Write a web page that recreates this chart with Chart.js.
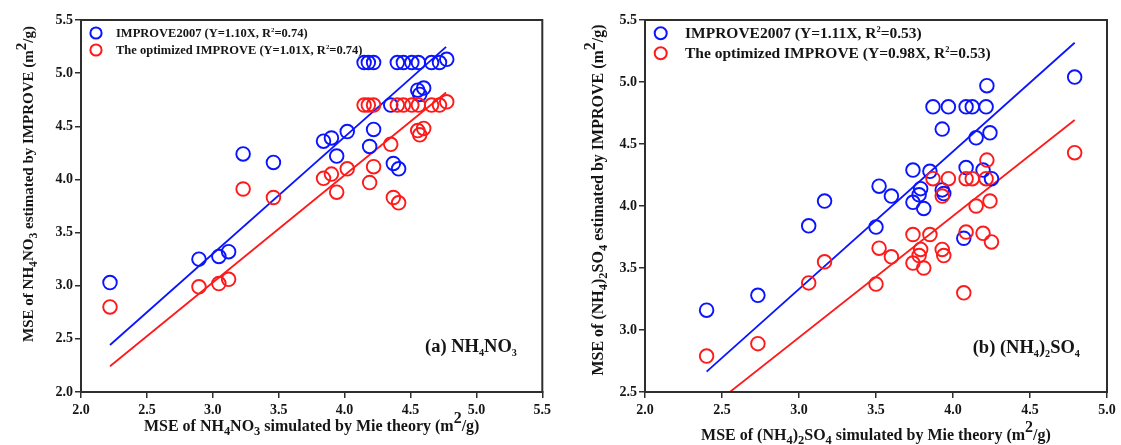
<!DOCTYPE html>
<html>
<head>
<meta charset="utf-8">
<script src="https://cdn.jsdelivr.net/npm/chart.js@4.4.1/dist/chart.umd.min.js"></script>
<style>
  html, body { margin: 0; padding: 0; background: #fff; }
  #wrapA { position: absolute; left: 0; top: 0; width: 560px; height: 445px; }
  #wrapB { position: absolute; left: 560px; top: 0; width: 561px; height: 445px; }
</style>
</head>
<body>
<div id="wrapA"><canvas id="chartA"></canvas></div>
<div id="wrapB"><canvas id="chartB"></canvas></div>
<script>
// ---------- (a) NH4NO3 ----------
const nitrateMie = [2.22, 2.895, 3.046, 3.12, 3.23, 3.46, 3.84, 3.90, 3.94, 4.02, 4.19, 4.22, 4.35, 4.37, 4.41,
  4.555, 4.57, 4.60, 4.148, 4.18, 4.22, 4.40, 4.446, 4.51, 4.56, 4.66, 4.72, 4.775];
const nitrateImprove2007 = [3.03, 3.25, 3.275, 3.32, 4.24, 4.16, 4.36, 4.39, 4.22, 4.45, 4.31, 4.47, 4.70, 4.15, 4.10,
  4.84, 4.80, 4.86, 5.10, 5.10, 5.10, 5.10, 5.10, 5.10, 5.10, 5.10, 5.10, 5.13];
const nitrateOptimized = [2.80, 2.99, 3.02, 3.06, 3.91, 3.83, 4.01, 4.05, 3.88, 4.10, 3.97, 4.12, 4.33, 3.83, 3.78,
  4.46, 4.42, 4.48, 4.70, 4.70, 4.70, 4.70, 4.70, 4.70, 4.70, 4.70, 4.70, 4.73];
const nitrateSlopes = [1.10, 1.01];
const nitrateR2 = ['0.74', '0.74'];
const nitrateFitRange = [2.22, 4.77];

// ---------- (b) (NH4)2SO4 ----------
const sulfateMie = [2.40, 2.733, 3.063, 3.166, 3.50, 3.52, 3.60, 3.74, 3.74, 3.78, 3.79, 3.81, 3.85, 3.87, 3.97,
  3.93, 3.93, 3.94, 4.07, 4.085, 4.125, 4.085, 4.15, 4.215, 4.22, 4.24, 4.195, 4.25, 4.79];
const sulfateImprove2007 = [3.16, 3.28, 3.84, 4.04, 3.83, 4.16, 4.08, 4.29, 4.03, 4.09, 4.14, 3.98, 4.28, 4.80, 4.80,
  4.62, 4.13, 4.10, 3.74, 4.80, 4.80, 4.31, 4.55, 4.80, 4.97, 4.59, 4.29, 4.22, 5.04];
const sulfateOptimized = [2.79, 2.89, 3.38, 3.55, 3.37, 3.66, 3.59, 3.77, 3.54, 3.60, 3.65, 3.50, 3.77, 4.22, 4.22,
  4.08, 3.65, 3.60, 3.30, 4.22, 4.22, 3.79, 4.00, 4.22, 4.37, 4.04, 3.78, 3.71, 4.43];
const sulfateSlopes = [1.11, 0.98];
const sulfateR2 = ['0.53', '0.53'];
const sulfateFitRange = [2.40, 4.79];

const xTicksA = [2.0, 2.5, 3.0, 3.5, 4.0, 4.5, 5.0, 5.5];
const yTicksA = [2.0, 2.5, 3.0, 3.5, 4.0, 4.5, 5.0, 5.5];
const xTicksB = [2.0, 2.5, 3.0, 3.5, 4.0, 4.5, 5.0];
const yTicksB = [2.5, 3.0, 3.5, 4.0, 4.5, 5.0, 5.5];

const SERIF = '"Liberation Serif", "Times New Roman", "DejaVu Serif", serif';
const BLUE = '#0a14ff';
const RED = '#ff1a1a';
const INK = '#151515';
const AXIS = '#2e2e2e';

// ---------- text with sub-/superscripts: "_x" lowers, "^x" raises one character ----------
function parseRich(str) {
  const out = []; let buf = '';
  for (let i = 0; i < str.length; i++) {
    const c = str[i];
    if ((c === '_' || c === '^') && i + 1 < str.length) {
      if (buf) { out.push({ t: buf, m: 0 }); buf = ''; }
      out.push({ t: str[i + 1], m: c === '_' ? -1 : 1 });
      i++;
    } else buf += c;
  }
  if (buf) out.push({ t: buf, m: 0 });
  return out;
}
function drawRich(ctx, str, x, y, o) {
  const segs = parseRich(str);
  const F = o.size;
  const sizeOf = m => m === 0 ? F : (m < 0 ? F * o.subScale : F * o.supScale);
  const fontOf = m => 'bold ' + sizeOf(m).toFixed(2) + 'px ' + SERIF;
  let w = 0;
  segs.forEach(s => { ctx.font = fontOf(s.m); s.w = ctx.measureText(s.t).width; w += s.w; });
  ctx.save();
  ctx.translate(x, y);
  if (o.rotate) ctx.rotate(o.rotate);
  let cx = o.align === 'center' ? -w / 2 : (o.align === 'right' ? -w : 0);
  ctx.fillStyle = INK; ctx.textAlign = 'left'; ctx.textBaseline = 'alphabetic';
  segs.forEach(s => {
    ctx.font = fontOf(s.m);
    const dy = s.m === 0 ? 0 : (s.m < 0 ? F * o.subShift : -F * o.supShift);
    ctx.fillText(s.t, cx, dy);
    cx += s.w;
  });
  ctx.restore();
}

// ---------- frame, legend, axis titles and panel label ----------
const panelDecor = {
  id: 'panelDecor',
  afterDraw(chart, args, opts) {
    const ctx = chart.ctx, a = chart.chartArea;
    ctx.save();
    ctx.strokeStyle = AXIS; ctx.lineWidth = 2;
    ctx.strokeRect(a.left, a.top, a.right - a.left, a.bottom - a.top);
    ctx.restore();

    // legend inside the plot
    const lg = opts.legend;
    lg.items.forEach((it, i) => {
      const cy = a.top + lg.firstRow + i * lg.rowGap;
      ctx.save();
      ctx.strokeStyle = it.color; ctx.lineWidth = 2;
      ctx.beginPath(); ctx.arc(a.left + lg.markerX, cy, lg.markerR, 0, Math.PI * 2); ctx.stroke();
      ctx.restore();
      drawRich(ctx, it.text, a.left + lg.textX, cy + lg.size * 0.33,
        { size: lg.size, align: 'left', subScale: 0.6, subShift: 0.2, supScale: 0.55, supShift: 0.42 });
    });

    // axis titles
    drawRich(ctx, opts.xTitle, (a.left + a.right) / 2, opts.xTitleBase,
      { size: opts.xTitleSize, align: 'center', subScale: 0.78, subShift: 0.26, supScale: 1.0, supShift: 0.5 });
    drawRich(ctx, opts.yTitle, opts.yTitleBase, opts.yTitleCenter,
      { size: opts.yTitleSize, align: 'center', rotate: -Math.PI / 2, subScale: 0.78, subShift: 0.26, supScale: 1.0, supShift: 0.5 });

    // panel label
    drawRich(ctx, opts.panel.text, opts.panel.x, opts.panel.y,
      { size: 18.5, align: 'left', subScale: 0.55, subShift: 0.22, supScale: 0.55, supShift: 0.4 });
  }
};

function fitLine(slope, range) {
  return range.map(x => ({ x: x, y: slope * x }));
}
function pairs(xs, ys) { return xs.map((x, i) => ({ x: x, y: ys[i] })); }

function makePanel(canvasId, c) {
  const tickFont = { family: SERIF, size: 14, weight: 'bold' };
  const circle = (color, pts) => ({
    type: 'scatter', data: pts, showLine: false,
    pointStyle: 'circle', pointRadius: 6.8, pointHoverRadius: 6.8,
    pointBorderWidth: 1.9, borderColor: color, backgroundColor: 'rgba(0,0,0,0)'
  });
  const line = (color, pts) => ({
    type: 'line', data: pts, borderColor: color, borderWidth: 1.8,
    pointRadius: 0, fill: false, clip: 0
  });
  return new Chart(document.getElementById(canvasId), {
    type: 'scatter',
    data: {
      datasets: [
        circle(RED, pairs(c.mie, c.optimized)),
        circle(BLUE, pairs(c.mie, c.improve2007)),
        line(RED, fitLine(c.slopes[1], c.fitRange)),
        line(BLUE, fitLine(c.slopes[0], c.fitRange))
      ]
    },
    options: {
      responsive: true, maintainAspectRatio: false, animation: false, events: [],
      layout: { padding: { top: 20, right: c.padRight, left: 0, bottom: 0 } },
      plugins: {
        legend: { display: false }, tooltip: { enabled: false },
        panelDecor: c.decor
      },
      scales: {
        x: {
          type: 'linear', min: c.xTicks[0], max: c.xTicks[c.xTicks.length - 1],
          afterBuildTicks: s => { s.ticks = c.xTicks.map(v => ({ value: v })); },
          afterFit: s => { s.height = 53; },
          ticks: { callback: v => Number(v).toFixed(1), font: tickFont, color: INK, padding: 4, maxRotation: 0, autoSkip: false },
          grid: { drawOnChartArea: false, drawTicks: true, tickLength: 6, color: AXIS, lineWidth: 1.5 },
          border: { display: true, color: AXIS, width: 2 }
        },
        y: {
          type: 'linear', min: c.yTicks[0], max: c.yTicks[c.yTicks.length - 1],
          afterBuildTicks: s => { s.ticks = c.yTicks.map(v => ({ value: v })); },
          afterFit: s => { s.width = c.yWidth; },
          ticks: { callback: v => Number(v).toFixed(1), font: tickFont, color: INK, padding: 2, autoSkip: false },
          grid: { drawOnChartArea: false, drawTicks: true, tickLength: 6, color: AXIS, lineWidth: 1.5 },
          border: { display: true, color: AXIS, width: 2 }
        }
      }
    },
    plugins: [panelDecor]
  });
}

const legendText = (s, r) => [
  { color: BLUE, text: 'IMPROVE2007 (Y=' + s[0].toFixed(2) + 'X, R^2=' + r[0] + ')' },
  { color: RED, text: 'The optimized IMPROVE (Y=' + s[1].toFixed(2) + 'X, R^2=' + r[1] + ')' }
];

makePanel('chartA', {
  mie: nitrateMie, improve2007: nitrateImprove2007, optimized: nitrateOptimized,
  slopes: nitrateSlopes, fitRange: nitrateFitRange, xTicks: xTicksA, yTicks: yTicksA,
  yWidth: 81, padRight: 17.7,
  decor: {
    legend: { items: legendText(nitrateSlopes, nitrateR2), size: 12.5, firstRow: 13, rowGap: 17, markerX: 15, markerR: 5.6, textX: 35 },
    xTitle: 'MSE of NH_4NO_3 simulated by Mie theory (m^2/g)', xTitleBase: 431, xTitleSize: 16,
    yTitle: 'MSE of NH_4NO_3 estimated by IMPROVE (m^2/g)', yTitleBase: 33, yTitleCenter: 184, yTitleSize: 15,
    panel: { text: '(a) NH_4NO_3', x: 425, y: 352 }
  }
});

makePanel('chartB', {
  mie: sulfateMie, improve2007: sulfateImprove2007, optimized: sulfateOptimized,
  slopes: sulfateSlopes, fitRange: sulfateFitRange, xTicks: xTicksB, yTicks: yTicksB,
  yWidth: 85, padRight: 14,
  decor: {
    legend: { items: legendText(sulfateSlopes, sulfateR2), size: 15.5, firstRow: 13.3, rowGap: 20, markerX: 15.7, markerR: 6, textX: 40 },
    xTitle: 'MSE of (NH_4)_2SO_4 simulated by Mie theory (m^2/g)', xTitleBase: 440, xTitleSize: 16,
    yTitle: 'MSE of (NH_4)_2SO_4 estimated by IMPROVE (m^2/g)', yTitleBase: 43, yTitleCenter: 200, yTitleSize: 16,
    panel: { text: '(b) (NH_4)_2SO_4', x: 412.7, y: 353 }
  }
});
</script>
</body>
</html>
